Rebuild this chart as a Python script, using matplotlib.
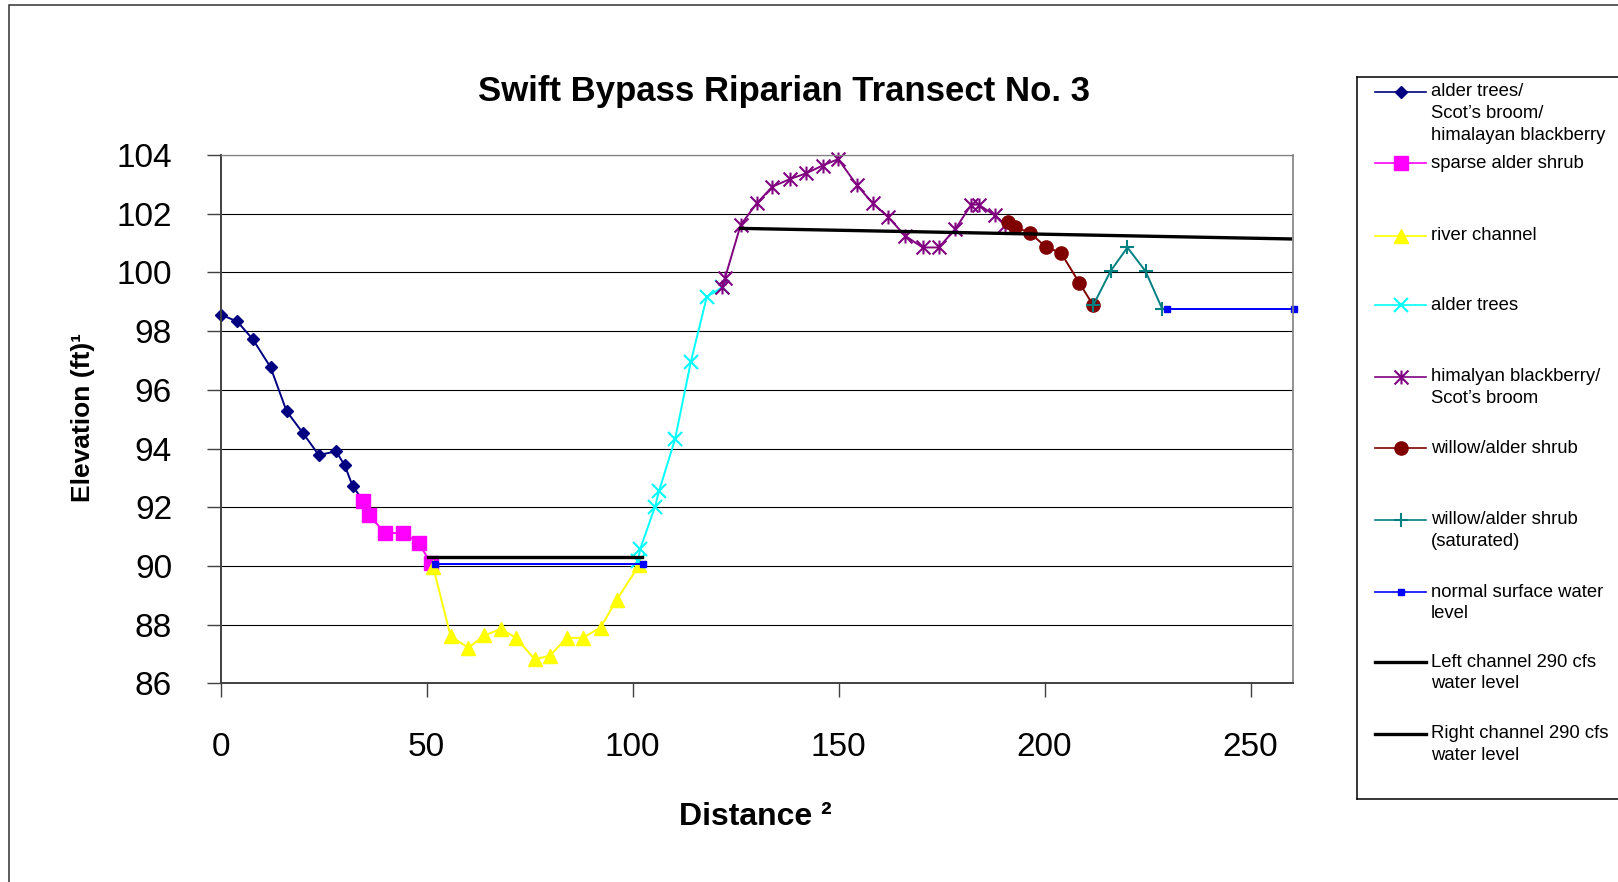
import matplotlib
matplotlib.use("Agg")
import matplotlib.pyplot as plt
from matplotlib.path import Path
from matplotlib.patches import Rectangle
import numpy as np

plt.rcParams['font.family'] = ['Liberation Sans', 'DejaVu Sans']

# ---------------- data ----------------
title = "Swift Bypass Riparian Transect No. 3"
xlabel = "Distance \u00b2"
ylabel = "Elevation (ft)\u00b9"
xticks = [0, 50, 100, 150, 200, 250]
yticks = [86, 88, 90, 92, 94, 96, 98, 100, 102, 104]

alder_mix_x = [0, 4.0, 7.8, 12.1, 16.0, 20.0, 23.8, 28.0, 30.1, 32.0, 34.6]
alder_mix_y = [98.56, 98.33, 97.72, 96.77, 95.27, 94.52, 93.78, 93.90, 93.43, 92.73, 92.21]

sparse_x = [34.6, 36.0, 39.9, 44.2, 48.1, 51.0]
sparse_y = [92.21, 91.73, 91.12, 91.12, 90.78, 90.09]

river_x = [51.6, 55.8, 60.1, 64.0, 68.0, 71.7, 76.2, 79.9, 84.0, 87.9, 92.2, 96.1, 101.6]
river_y = [89.95, 87.61, 87.21, 87.63, 87.85, 87.55, 86.82, 86.94, 87.55, 87.55, 87.90, 88.84, 90.03]

alder_x = [101.3, 101.8, 105.4, 106.4, 110.3, 114.1, 118.0, 121.8]
alder_y = [90.15, 90.57, 92.00, 92.55, 94.32, 96.94, 99.17, 99.49]

blackberry_x = [121.8, 122.4, 126.2, 130.1, 133.9, 138.2, 142.2, 146.1, 149.9, 154.4,
                158.3, 162.1, 166.1, 170.4, 174.3, 178.3, 182.2, 184.0, 187.9, 190.4]
blackberry_y = [99.49, 99.80, 101.61, 102.35, 102.92, 103.18, 103.38, 103.64, 103.86, 102.98,
                102.35, 101.88, 101.25, 100.85, 100.85, 101.47, 102.31, 102.31, 101.94, 101.61]

willow_x = [191.2, 192.7, 196.4, 200.3, 204.0, 208.4, 211.8]
willow_y = [101.71, 101.56, 101.35, 100.87, 100.66, 99.65, 98.88]

willow_sat_x = [211.8, 216.0, 220.1, 224.5, 228.6]
willow_sat_y = [98.88, 100.04, 100.85, 100.04, 98.74]

water_x = [52.0, 102.6, np.nan, 229.6, 260.5]
water_y = [90.08, 90.08, np.nan, 98.76, 98.76]

left_ch_x = [50.4, 102.2]
left_ch_y = [90.31, 90.31]

right_ch_x = [126.2, 259.7]
right_ch_y = [101.50, 101.14]

legend_labels = [
    ["alder trees/", "Scot\u2019s broom/", "himalayan blackberry"],
    ["sparse alder shrub"],
    ["river channel"],
    ["alder trees"],
    ["himalyan blackberry/", "Scot\u2019s broom"],
    ["willow/alder shrub"],
    ["willow/alder shrub", "(saturated)"],
    ["normal surface water", "level"],
    ["Left channel 290 cfs", "water level"],
    ["Right channel 290 cfs", "water level"],
]

# ---------------- styles ----------------
asterisk = Path([(-1, -1), (1, 1), (-1, 1), (1, -1), (0, -1), (0, 1)],
                [Path.MOVETO, Path.LINETO] * 3)

styles = [
    dict(color='#000080', marker='D', ms=6.0, mfc='#000080', mec='#000080'),
    dict(color='#FF00FF', marker='s', ms=9.5, mfc='#FF00FF', mec='#FF00FF'),
    dict(color='#FFFF00', marker='^', ms=9.5, mfc='#FFFF00', mec='#FFFF00'),
    dict(color='#00FFFF', marker='x', ms=9.5, mec='#00FFFF', mew=1.5),
    dict(color='#800080', marker=asterisk, ms=10, mfc='none', mec='#800080', mew=1.5),
    dict(color='#800000', marker='o', ms=9.5, mfc='#800000', mec='#800000'),
    dict(color='#008080', marker='+', ms=9.5, mec='#008080', mew=1.5),
    dict(color='#0000FF', marker='s', ms=4.5, mfc='#0000FF', mec='#0000FF'),
    dict(color='black', marker=None, lw=2.4),
    dict(color='black', marker=None, lw=2.4),
]
for s in styles:
    s.setdefault('lw', 1.4)

series = [
    (alder_mix_x, alder_mix_y), (sparse_x, sparse_y), (river_x, river_y),
    (alder_x, alder_y), (blackberry_x, blackberry_y), (willow_x, willow_y),
    (willow_sat_x, willow_sat_y), (water_x, water_y),
    (left_ch_x, left_ch_y), (right_ch_x, right_ch_y),
]

# ---------------- figure ----------------
W, H = 1618, 882
fig = plt.figure(figsize=(W / 100, H / 100), dpi=100)

def fx(px):
    return px / W

def fy(py):
    return 1 - py / H

# outer chart-area border
fig.patches.append(Rectangle((fx(9), -0.2), 2, fy(4.7) + 0.2, transform=fig.transFigure,
                             fill=False, ec='#303030', lw=1.1, zorder=0))

ax_l, ax_r, ax_t, ax_b = 220.7, 1293.0, 155.0, 683.3
ax = fig.add_axes([fx(ax_l), fy(ax_b), fx(ax_r - ax_l), (ax_b - ax_t) / H])

for (x, y), st in zip(series, styles):
    ax.plot(x, y, clip_on=False, **st)

ax.set_xlim(0, 260.3)
ax.set_ylim(86, 104)
ax.set_xticks(xticks)
ax.set_yticks(yticks)
ax.set_xticklabels([str(t) for t in xticks])
ax.set_yticklabels([str(t) for t in yticks])
ax.tick_params(axis='y', direction='out', length=10, width=1.0, color='#404040',
               labelsize=24, pad=25)
ax.tick_params(axis='x', direction='out', length=10, width=1.0, color='#404040',
               labelsize=24, pad=25)
ax.yaxis.grid(True, color='black', lw=0.8)
ax.set_axisbelow(True)
ax.spines['left'].set_color('#404040')
ax.spines['left'].set_linewidth(1.4)
ax.spines['bottom'].set_color('#404040')
ax.spines['bottom'].set_linewidth(1.4)
ax.spines['right'].set_color('#808080')
ax.spines['right'].set_linewidth(1.2)
ax.spines['top'].set_color('#808080')
ax.spines['top'].set_linewidth(0.9)

# titles / labels
fig.text(fx(784), fy(92), title, ha='center', va='center', fontsize=25, fontweight='bold')
fig.text(fx(755), fy(825), xlabel, ha='center', va='baseline', fontsize=23, fontweight='bold')
fig.text(fx(83), fy(417), ylabel, ha='center', va='center', rotation=90,
         fontsize=19, fontweight='bold')

# ---------------- legend ----------------
lg_l, lg_t, lg_b, lg_r = 1357.3, 76.7, 799.3, 1640
lax = fig.add_axes([fx(lg_l), fy(lg_b), fx(lg_r - lg_l), (lg_b - lg_t) / H])
lax.set_xlim(lg_l, lg_r)
lax.set_ylim(lg_b, lg_t)
lax.set_xticks([])
lax.set_yticks([])
for sp in lax.spines.values():
    sp.set_color('black')
    sp.set_linewidth(1.1)

entry_y = [91.7, 163.3, 235.7, 305.0, 376.7, 448.3, 520.0, 592.3, 662.3, 734.0]
line_gap = 21.7
for ey, labels, st in zip(entry_y, legend_labels, styles):
    st2 = dict(st)
    lax.plot([1375, 1426], [ey, ey], color=st2['color'], lw=st2['lw'] * 0.85
             if st2.get('marker') is not None else st2['lw'])
    if st2.get('marker') is not None:
        mk = {k: v for k, v in st2.items() if k not in ('color', 'lw')}
        lax.plot([1400.7], [ey], linestyle='none', **mk)
    for i, lab in enumerate(labels):
        lax.text(1431, ey + i * line_gap, lab, ha='left', va='center', fontsize=13.3)

fig.savefig("out.png", dpi=100)
